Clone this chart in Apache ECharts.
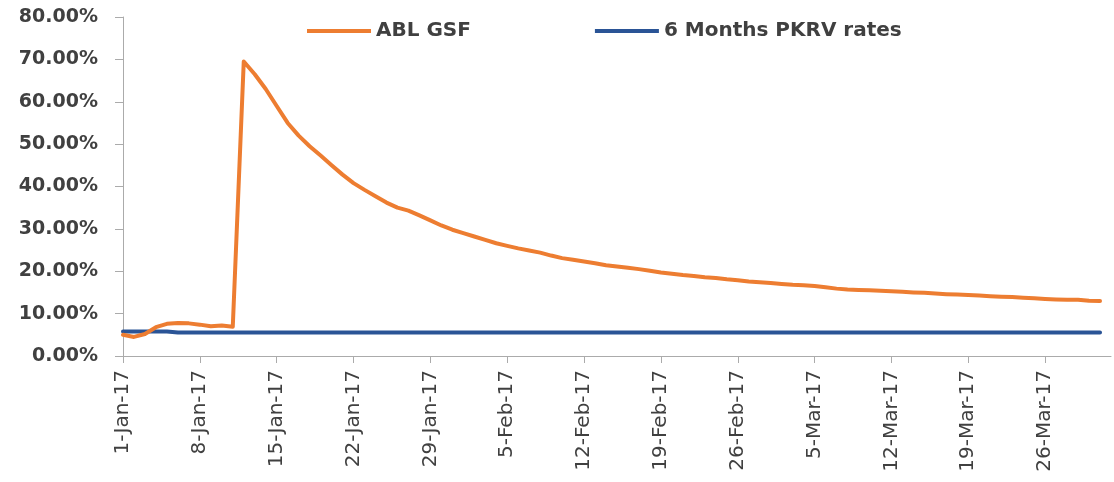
<!DOCTYPE html>
<html>
<head>
<meta charset="utf-8">
<title>ABL GSF vs 6 Months PKRV rates</title>
<script src="https://cdn.jsdelivr.net/npm/echarts@6/dist/echarts.min.js"></script>
<style>
  html, body { margin: 0; padding: 0; background: #fff; }
  #chart { width: 1114px; height: 482px; }
</style>
</head>
<body>
<div id="chart"></div>
<script>
// daily dates, 1-Jan-17 .. 1-Apr-17 (last category has no data)
const monthNames = ['Jan', 'Feb', 'Mar', 'Apr'];
const startDate = new Date(2017, 0, 1);
const dayCount = 91;
const dates = [];
for (let i = 0; i < dayCount; i++) {
  const d = new Date(startDate.getFullYear(), startDate.getMonth(), startDate.getDate() + i);
  dates.push(d.getDate() + '-' + monthNames[d.getMonth()] + '-17');
}

// ABL GSF annualised return, %
const ablGsf = [
  5.0, 4.5, 5.2, 6.8, 7.6, 7.8, 7.7, 7.4, 7.0, 7.2,
  6.9, 69.5, 66.5, 63.0, 59.0, 55.0, 52.0, 49.5, 47.3, 45.0,
  42.8, 40.8, 39.2, 37.7, 36.2, 35.0, 34.3, 33.2, 32.0, 30.8,
  29.8, 29.0, 28.2, 27.4, 26.6, 26.0, 25.4, 24.9, 24.4, 23.7,
  23.1, 22.7, 22.3, 21.9, 21.4, 21.1, 20.8, 20.5, 20.1, 19.7,
  19.4, 19.1, 18.9, 18.6, 18.4, 18.1, 17.9, 17.6, 17.4, 17.2,
  17.0, 16.8, 16.7, 16.5, 16.2, 15.9, 15.7, 15.6, 15.5, 15.4,
  15.3, 15.15, 15.0, 14.9, 14.75, 14.6, 14.5, 14.4, 14.25, 14.1,
  14.0, 13.9, 13.75, 13.6, 13.45, 13.35, 13.3, 13.25, 13.05, 13.0
];

// 6 Months PKRV rates, %
const pkrv = [
  5.8, 5.8, 5.8, 5.8, 5.8, 5.55, 5.55, 5.55, 5.55, 5.55,
  5.55, 5.55, 5.55, 5.55, 5.55, 5.55, 5.55, 5.55, 5.55, 5.55,
  5.55, 5.55, 5.55, 5.55, 5.55, 5.55, 5.55, 5.55, 5.55, 5.55,
  5.55, 5.55, 5.55, 5.55, 5.55, 5.55, 5.55, 5.55, 5.55, 5.55,
  5.55, 5.55, 5.55, 5.55, 5.55, 5.55, 5.55, 5.55, 5.55, 5.55,
  5.55, 5.55, 5.55, 5.55, 5.55, 5.55, 5.55, 5.55, 5.55, 5.55,
  5.55, 5.55, 5.55, 5.55, 5.55, 5.55, 5.55, 5.55, 5.55, 5.55,
  5.55, 5.55, 5.55, 5.55, 5.55, 5.55, 5.55, 5.55, 5.55, 5.55,
  5.55, 5.55, 5.55, 5.55, 5.55, 5.55, 5.55, 5.55, 5.55, 5.55
];

const axisColor = '#ababab';
const textColor = '#404040';

const myChart = echarts.init(document.getElementById('chart'));
const option = {
  animation: false,
  legend: {
    left: 307,
    top: 21,
    padding: 0,
    icon: 'rect',
    itemWidth: 64,
    itemHeight: 4,
    itemGap: 124,
    textStyle: {
      color: textColor,
      fontFamily: 'DejaVu Sans',
      fontWeight: 'bold',
      fontSize: 20
    },
    data: ['ABL GSF', '6 Months PKRV rates']
  },
  grid: {
    left: 123,
    right: 3,
    top: 17,
    bottom: 126,
    containLabel: false
  },
  xAxis: {
    type: 'category',
    boundaryGap: false,
    data: dates,
    axisLine: { lineStyle: { color: axisColor, width: 1 } },
    axisTick: { interval: 6, length: 7, lineStyle: { color: axisColor } },
    axisLabel: {
      interval: 6,
      rotate: 90,
      margin: 14,
      color: textColor,
      fontFamily: 'DejaVu Sans',
      fontSize: 20
    },
    splitLine: { show: false }
  },
  yAxis: {
    type: 'value',
    min: 0,
    max: 80,
    interval: 10,
    axisLine: { show: true, lineStyle: { color: axisColor, width: 1 } },
    axisTick: { show: true, length: 8, lineStyle: { color: axisColor } },
    axisLabel: {
      margin: 25,
      color: textColor,
      fontFamily: 'DejaVu Sans',
      fontWeight: 'bold',
      fontSize: 19,
      formatter: v => v.toFixed(2) + '%'
    },
    splitLine: { show: false }
  },
  series: [
    {
      name: 'ABL GSF',
      type: 'line',
      symbol: 'none',
      data: ablGsf,
      itemStyle: { color: '#ED7D31' },
      lineStyle: { color: '#ED7D31', width: 4, cap: 'round', join: 'round' },
      z: 3
    },
    {
      name: '6 Months PKRV rates',
      type: 'line',
      symbol: 'none',
      data: pkrv,
      itemStyle: { color: '#2A5496' },
      lineStyle: { color: '#2A5496', width: 4, cap: 'round', join: 'round' },
      z: 2
    }
  ]
};
myChart.setOption(option);
</script>
</body>
</html>
